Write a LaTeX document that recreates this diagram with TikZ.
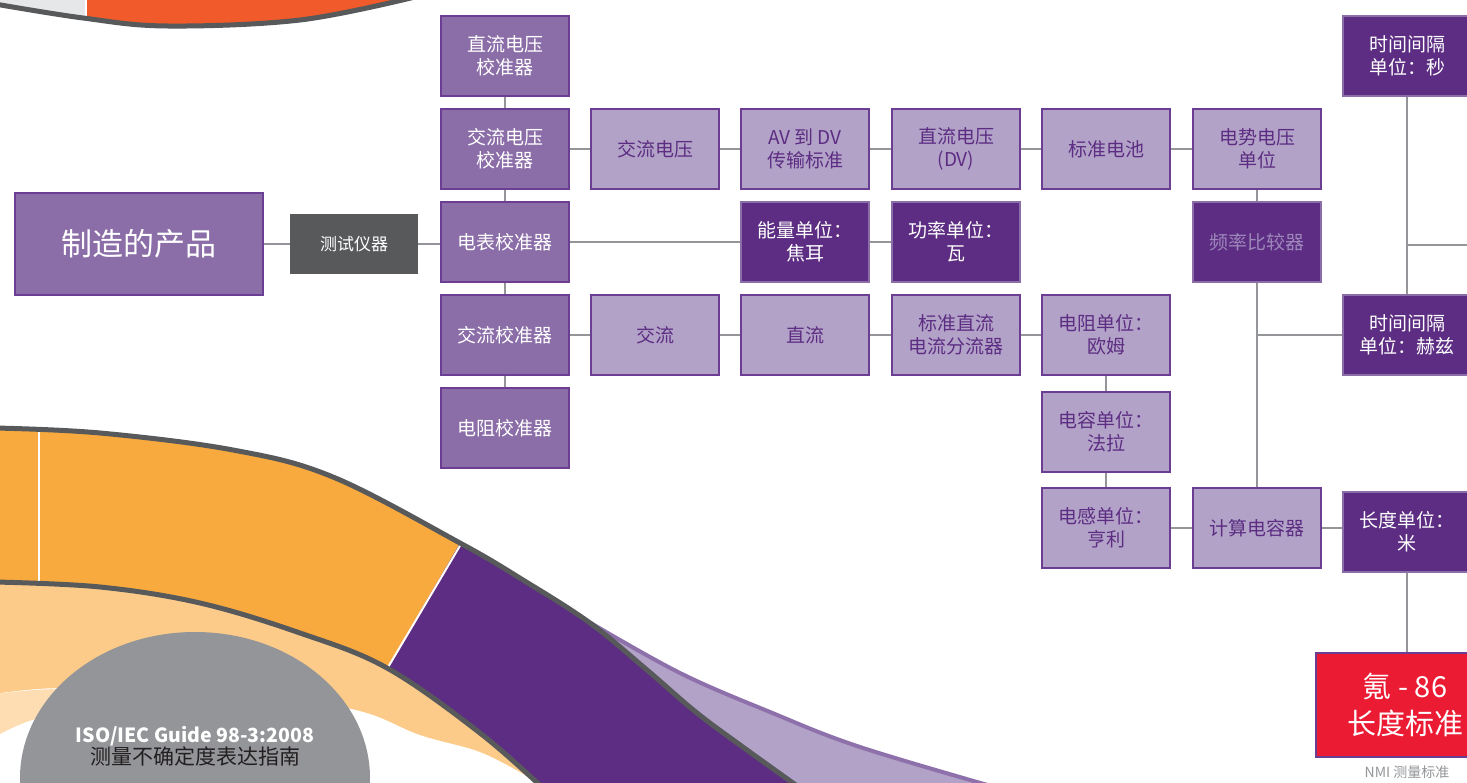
\documentclass[tikz,border=0pt]{standalone}
\usepackage{fontspec}
\setmainfont{Noto Sans CJK SC}
\definecolor{darkp}{HTML}{5C2D82}
\definecolor{midp}{HTML}{8B6DA8}
\definecolor{lightp}{HTML}{B3A2C8}
\definecolor{bdr}{HTML}{6B3E93}
\definecolor{dbdr}{HTML}{8B6EA8}
\definecolor{conng}{HTML}{939598}
\definecolor{dgrey}{HTML}{58595B}
\definecolor{orangeA}{HTML}{F8AA3E}
\definecolor{orangeL}{HTML}{FDCB89}
\definecolor{orangeP}{HTML}{FEDDB2}
\definecolor{redorange}{HTML}{F15A2A}
\definecolor{lgrey}{HTML}{E6E7E8}
\definecolor{nmired}{HTML}{EC1B34}
\definecolor{freqtxt}{HTML}{9E87BA}
\definecolor{tailline}{HTML}{8E70AB}
\definecolor{isotxt}{HTML}{231F20}
\begin{document}
\begin{tikzpicture}[x=1pt,y=-1pt,
  box/.style={draw=bdr, line width=1.5pt, minimum width=128pt, minimum height=80pt, inner sep=0pt, align=center, font=\fontsize{19}{23}\selectfont},
  mbox/.style={box, fill=midp, text=white},
  lbox/.style={box, fill=lightp, text=darkp},
  dbox/.style={box, draw=dbdr, line width=1.2pt, fill=darkp, text=white},
  conn/.style={draw=conng, line width=2.8pt},
  bandline/.style={draw=dgrey, line width=5pt},
  sep/.style={draw=white, line width=2pt}]
\clip (0,0) rectangle (1467,783);
% ---------- top-left arc ----------
\begin{scope}
\clip (-5,-8) -- plot[smooth,tension=0.6] coordinates {(-5,4) (83,18) (167,26) (300,20) (415,-3)} -- (420,-8) -- cycle;
\fill[redorange] (-5,-8) rectangle (420,30);
\fill[lgrey] (-5,-8) rectangle (86,30);
\end{scope}
\draw[sep, line width=1.5pt] (86,-2) -- (86,18);
\draw[bandline] plot[smooth,tension=0.6] coordinates {(-5,4) (83,18) (167,26) (300,20) (415,-3)};
% ---------- bottom-left band ----------
\fill[orangeL] plot[smooth,tension=0.6] coordinates {(-5,582) (100,587) (200,603) (300,633) (387,668) (480,733) (545,790)}
  -- plot[smooth,tension=0.6] coordinates {(525,775) (480,752) (420,735) (367,713) (300,700) (200,690) (60,688) (-5,694)} -- cycle;
\fill[orangeP] (-5,694) .. controls (30,690) .. (100,687) -- (100,706) .. controls (50,712) and (20,722) .. (-5,737) -- cycle;
\fill[conng] (195,778) ellipse [x radius=175pt, y radius=146pt];
% light purple tail
\fill[lightp] plot[smooth,tension=0.6] coordinates {(589,622) (680,673) (770,712) (860,747) (1005,790)}
  -- (1005,800) -- (700,800) -- (575,630) -- cycle;
\draw[draw=tailline, line width=4pt] plot[smooth,tension=0.6] coordinates {(589,622) (680,673) (770,712) (860,747) (1005,790)};
% purple band
\fill[darkp] plot[smooth,tension=0.6] coordinates {(-5,428) (100,433) (233,450) (333,477) (460,543) (523,580) (590,623) (647,670) (697,713) (747,750) (800,788)}
  -- (810,800) -- (545,800)
  -- plot[smooth,tension=0.6] coordinates {(545,790) (480,733) (387,668) (300,633) (200,603) (100,587) (-5,582)} -- cycle;
\begin{scope}
\clip (-10,380) -- (555,380) -- (310,800) -- (-10,800) -- cycle;
\fill[orangeA] plot[smooth,tension=0.6] coordinates {(-5,428) (100,433) (233,450) (333,477) (460,543) (523,580) (590,623) (647,670) (697,713) (747,750) (800,788)}
  -- (810,800) -- (545,800)
  -- plot[smooth,tension=0.6] coordinates {(545,790) (480,733) (387,668) (300,633) (200,603) (100,587) (-5,582)} -- cycle;
\end{scope}
\draw[sep] (39,431) -- (39,584);
\draw[sep] (461,544) -- (387,669);
\draw[bandline] plot[smooth,tension=0.6] coordinates {(-5,428) (100,433) (233,450) (333,477) (460,543) (523,580) (590,623) (647,670) (697,713) (747,750) (800,788)};
\draw[bandline] plot[smooth,tension=0.6] coordinates {(-5,582) (100,587) (200,603) (300,633) (387,668) (480,733) (545,790)};
\node[align=center, inner sep=0pt] (iso) at (195,746)
  {{\fontsize{19.5}{27}\selectfont\bfseries\color{white} ISO/IEC Guide 98-3:2008}\\
   {\fontsize{21}{27}\selectfont\color{isotxt} 测量不确定度表达指南}};
% ---------- nodes ----------
\node[mbox, minimum width=248pt, minimum height=102pt, font=\fontsize{31}{36}\selectfont] (prod) at (139,244) {制造的产品};
\node[fill=dgrey, text=white, minimum width=128pt, minimum height=60pt, inner sep=0pt, font=\fontsize{17}{20}\selectfont] (test) at (354,244) {测试仪器};
\node[mbox] (dcvc) at (505,56) {直流电压\\校准器};
\node[mbox] (acvc) at (505,149) {交流电压\\校准器};
\node[mbox] (mtrc) at (505,242) {电表校准器};
\node[mbox] (acc) at (505,335) {交流校准器};
\node[mbox] (resc) at (505,428) {电阻校准器};
\node[lbox] (acv) at (655,149) {交流电压};
\node[lbox] (ac) at (655,335) {交流};
\node[lbox] (avdv) at (805,149) {AV 到 DV\\传输标准};
\node[dbox] (joule) at (805,242) {能量单位：\\焦耳};
\node[lbox] (dc) at (805,335) {直流};
\node[lbox] (dcv) at (956,149) {直流电压\\(DV)};
\node[dbox] (watt) at (956,242) {功率单位：\\瓦};
\node[lbox] (shunt) at (956,335) {标准直流\\电流分流器};
\node[lbox] (cell) at (1106,149) {标准电池};
\node[lbox] (ohm) at (1106,335) {电阻单位：\\欧姆};
\node[lbox] (farad) at (1106,432) {电容单位：\\法拉};
\node[lbox] (henry) at (1106,528) {电感单位：\\亨利};
\node[lbox] (emf) at (1257,149) {电势电压\\单位};
\node[dbox, text=freqtxt] (freq) at (1257,242) {频率比较器};
\node[lbox] (calc) at (1257,528) {计算电容器};
\node[dbox] (sec) at (1407,56) {时间间隔\\单位：秒};
\node[dbox] (hz) at (1407,335) {时间间隔\\单位：赫兹};
\node[dbox] (metre) at (1407,532) {长度单位：\\米};
\node[draw=bdr, line width=1.2pt, fill=nmired, text=white, minimum width=178pt, minimum height=104pt, inner sep=0pt, align=center, font=\fontsize{29}{37}\selectfont] (kr) at (1405,705) {氪 - 86\\长度标准};
\node[text=conng, inner sep=0pt, font=\fontsize{14}{16}\selectfont] (nmi) at (1407,772) {NMI 测量标准};
\coordinate (redge) at (1470,245);
% ---------- connectors ----------
\draw[conn] (prod) -- (test);
\draw[conn] (test.east) -- (test.east -| mtrc.west);
\draw[conn] (dcvc) -- (acvc) (acvc) -- (mtrc) (mtrc) -- (acc) (acc) -- (resc);
\draw[conn] (acvc) -- (acv) (acv) -- (avdv) (avdv) -- (dcv) (dcv) -- (cell) (cell) -- (emf);
\draw[conn] (mtrc) -- (joule) (joule) -- (watt);
\draw[conn] (acc) -- (ac) (ac) -- (dc) (dc) -- (shunt) (shunt) -- (ohm);
\draw[conn] (ohm) -- (farad) (farad) -- (henry) (henry) -- (calc);
\draw[conn] (calc.east) -- (calc.east -| metre.west);
\draw[conn] (emf) -- (freq) (freq) -- (calc);
\draw[conn] (hz.west) -- (hz.west -| freq.south);
\draw[conn] (sec) -- (hz);
\draw[conn] (sec.south |- redge) -- (redge);
\draw[conn] (metre.south) -- (metre.south |- kr.north);
\end{tikzpicture}
\end{document}
